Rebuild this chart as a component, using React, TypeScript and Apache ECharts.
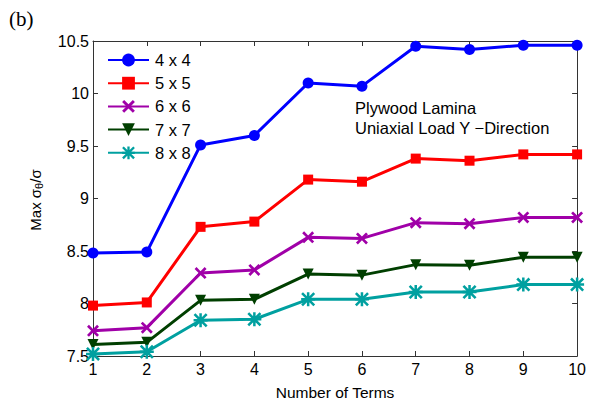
import React, { useEffect, useRef } from "react";
import * as echarts from "echarts";

const terms = [1, 2, 3, 4, 5, 6, 7, 8, 9, 10];
const s4x4 = [8.48, 8.49, 9.51, 9.6, 10.1, 10.07, 10.45, 10.42, 10.46, 10.46];
const s5x5 = [7.98, 8.01, 8.73, 8.78, 9.18, 9.16, 9.38, 9.36, 9.42, 9.42];
const s6x6 = [7.74, 7.77, 8.29, 8.32, 8.63, 8.62, 8.77, 8.76, 8.82, 8.82];
const s7x7 = [7.61, 7.63, 8.03, 8.04, 8.28, 8.27, 8.37, 8.365, 8.44, 8.44];
const s8x8 = [7.52, 7.54, 7.84, 7.85, 8.04, 8.04, 8.11, 8.11, 8.18, 8.18];
const seriesNames = ["4 x 4", "5 x 5", "6 x 6", "7 x 7", "8 x 8"];

const X_PATH =
  "path://M0,1.6 L1.6,0 L5,3.4 L8.4,0 L10,1.6 L6.6,5 L10,8.4 L8.4,10 L5,6.6 L1.6,10 L0,8.4 L3.4,5 Z";
const STAR_PATH =
  "path://M4.1,0 L5.9,0 L5.9,10 L4.1,10 Z M0,4.1 L10,4.1 L10,5.9 L0,5.9 Z M1.3,0 L10,8.7 L8.7,10 L0,1.3 Z M10,1.3 L1.3,10 L0,8.7 L8.7,0 Z";

export default function App() {
  const ref = useRef<HTMLDivElement>(null);
  useEffect(() => {
    if (!ref.current) return;
    const chart = echarts.init(ref.current, undefined, { renderer: "svg" });
    const font = "Liberation Sans";
    const axisColor = "#333";
    const mk = (name: string, data: number[], color: string, symbol: string, size: number, rotate = 0) => ({
      name,
      type: "line",
      data: terms.map((t, i) => [t, data[i]]),
      symbol,
      symbolSize: size,
      symbolRotate: rotate,
      showSymbol: true,
      lineStyle: { color, width: 3 },
      itemStyle: { color, borderWidth: 0 },
      z: 3,
    });
    chart.setOption({
      animation: false,
      backgroundColor: "#fff",
      grid: { left: 93, right: 11, top: 41, bottom: 47, containLabel: false },
      legend: {
        orient: "vertical",
        left: 102,
        top: 46.5,
        itemWidth: 41,
        itemHeight: 16,
        itemGap: 6.2,
        textStyle: { fontFamily: font, fontSize: 16.5, color: "#000", padding: [0, 0, 0, 1] },
        data: seriesNames,
      },
      xAxis: [
        {
          type: "value",
          min: 1,
          max: 10,
          interval: 1,
          name: "Number of Terms",
          nameLocation: "middle",
          nameGap: 28,
          nameTextStyle: { fontFamily: font, fontSize: 15.5, color: "#000" },
          axisLine: { show: true, lineStyle: { color: axisColor, width: 1 } },
          axisTick: { show: true, inside: true, length: 5, lineStyle: { color: axisColor } },
          axisLabel: { fontFamily: font, fontSize: 16, color: "#000", margin: 5 },
          splitLine: { show: false },
        },
        {
          type: "value",
          position: "top",
          min: 1,
          max: 10,
          interval: 1,
          axisLine: { show: true, lineStyle: { color: axisColor, width: 1 } },
          axisTick: { show: true, inside: true, length: 5, lineStyle: { color: axisColor } },
          axisLabel: { show: false },
          splitLine: { show: false },
        },
      ],
      yAxis: [
        {
          type: "value",
          min: 7.5,
          max: 10.5,
          interval: 0.5,
          axisLine: { show: true, lineStyle: { color: axisColor, width: 1 } },
          axisTick: { show: true, inside: true, length: 5, lineStyle: { color: axisColor } },
          axisLabel: {
            fontFamily: font,
            fontSize: 16,
            color: "#000",
            margin: 4,
            formatter: (v: number) => String(Math.round(v * 10) / 10),
          },
          splitLine: { show: false },
        },
        {
          type: "value",
          position: "right",
          min: 7.5,
          max: 10.5,
          interval: 0.5,
          axisLine: { show: true, lineStyle: { color: axisColor, width: 1 } },
          axisTick: { show: true, inside: true, length: 5, lineStyle: { color: axisColor } },
          axisLabel: { show: false },
          splitLine: { show: false },
        },
      ],
      series: [
        mk(seriesNames[0], s4x4, "#0000ff", "circle", 11),
        mk(seriesNames[1], s5x5, "#ff0000", "rect", 10),
        mk(seriesNames[2], s6x6, "#a000a8", X_PATH, 12),
        mk(seriesNames[3], s7x7, "#003f00", "triangle", 11, 180),
        mk(seriesNames[4], s8x8, "#00a0a0", STAR_PATH, 14),
      ],
      graphic: [
        {
          type: "text",
          left: 9,
          top: 8,
          style: { text: "(b)", fontFamily: "Liberation Serif", fontSize: 21, fill: "#000" },
        },
        {
          type: "text",
          x: 35,
          y: 200,
          rotation: Math.PI / 2,
          style: {
            text: "{a|Max σ}{s|θ}{a|/σ}",
            align: "center",
            verticalAlign: "middle",
            rich: {
              a: { fontFamily: font, fontSize: 15, fill: "#000" },
              s: { fontFamily: font, fontSize: 11, fill: "#000", padding: [8, 0, 0, 0] },
            },
          },
        },
        {
          type: "text",
          left: 355,
          top: 98,
          style: {
            text: "Plywood Lamina\nUniaxial Load Y \u2212Direction",
            fontFamily: font,
            fontSize: 16.5,
            lineHeight: 20,
            fill: "#000",
          },
        },
      ],
    });
    return () => chart.dispose();
  }, []);
  return <div ref={ref} style={{ width: 589, height: 405, position: "absolute", left: 0, top: 0 }} />;
}
